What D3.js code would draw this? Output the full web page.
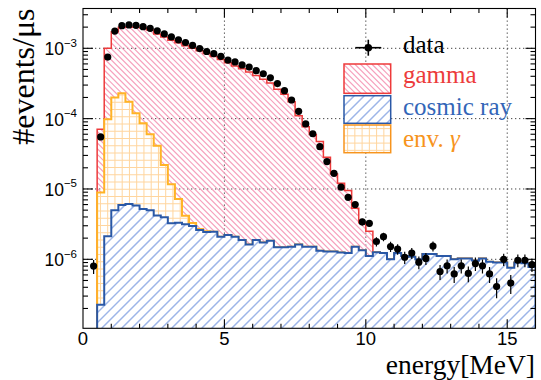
<!DOCTYPE html>
<html>
<head>
<meta charset="utf-8">
<script src="https://cdn.jsdelivr.net/npm/d3@7"></script>
<style>
  body { margin: 0; background: #fff; }
  svg { display: block; }
</style>
</head>
<body>
<svg id="chart" width="541" height="380"></svg>
<script>
// Energy spectrum: 64 bins of 0.25 MeV from 0 to 16 MeV, rates in events/us.
const binWidth = 0.25;

const gammaRate = [
  0, 0, 6.2e-5, 9.0e-4, 1.52e-3, 1.76e-3, 1.83e-3, 1.88e-3,
  1.86e-3, 1.76e-3, 1.56e-3, 1.43e-3, 1.29e-3, 1.19e-3, 1.08e-3, 1.0e-3,
  9.2e-4, 8.4e-4, 7.6e-4, 6.9e-4, 6.2e-4, 5.6e-4, 5.1e-4, 4.6e-4,
  4.1e-4, 3.6e-4, 3.2e-4, 2.6e-4, 2.2e-4, 1.73e-4, 1.08e-4, 7.5e-5,
  5.8e-5, 4.6e-5, 2.7e-5, 1.5e-5, 1.08e-5, 8.3e-6, 3.8e-6, 1.95e-6,
  1.4e-6, 0, 0, 0, 0, 0, 0, 0,
  0, 0, 0, 0, 0, 0, 0, 0,
  0, 0, 0, 0, 0, 0, 0, 0
];

const cosmicRayRate = [
  0, 0, 2.26e-7, 2.13e-6, 5.0e-6, 5.9e-6, 6.1e-6, 5.8e-6,
  5.2e-6, 5.0e-6, 4.2e-6, 3.97e-6, 3.25e-6, 3.3e-6, 3.15e-6, 2.97e-6,
  2.6e-6, 2.45e-6, 2.47e-6, 2.09e-6, 2.21e-6, 2.09e-6, 1.88e-6, 1.63e-6,
  1.88e-6, 1.74e-6, 1.83e-6, 1.48e-6, 1.48e-6, 1.51e-6, 1.63e-6, 1.51e-6,
  1.51e-6, 1.32e-6, 1.29e-6, 1.29e-6, 1.25e-6, 1.23e-6, 1.51e-6, 1.35e-6,
  1.11e-6, 1.26e-6, 1.23e-6, 1.0e-6, 1.23e-6, 1.11e-6, 1.09e-6, 1.0e-6,
  1.19e-6, 1.19e-6, 1.11e-6, 1.11e-6, 1.0e-6, 1.03e-6, 1.03e-6, 0.96e-6,
  1.03e-6, 0.92e-6, 0.90e-6, 0.90e-6, 0.76e-6, 0.90e-6, 0.88e-6, 0.78e-6
];

const envGammaRate = [
  0, 0, 8.7e-6, 9.6e-5, 1.94e-4, 2.23e-4, 1.68e-4, 1.13e-4,
  8.1e-5, 5.5e-5, 3.7e-5, 1.8e-5, 8.4e-6, 3.9e-6, 1.0e-6, 3.0e-7,
  1.0e-7, 5.0e-8, 0, 0, 0, 0, 0, 0,
  0, 0, 0, 0, 0, 0, 0, 0,
  0, 0, 0, 0, 0, 0, 0, 0,
  0, 0, 0, 0, 0, 0, 0, 0,
  0, 0, 0, 0, 0, 0, 0, 0,
  0, 0, 0, 0, 0, 0, 0, 0
];

const dataRate = [
  null, 8.0e-7, 5.5e-5, 7.5e-4, 1.76e-3, 2.1e-3, 2.15e-3, 2.12e-3,
  2.03e-3, 1.92e-3, 1.77e-3, 1.6e-3, 1.45e-3, 1.32e-3, 1.21e-3, 1.1e-3,
  9.9e-4, 9.0e-4, 8.4e-4, 7.7e-4, 6.8e-4, 6.4e-4, 5.8e-4, 5.4e-4,
  4.8e-4, 4.35e-4, 3.8e-4, 3.15e-4, 2.5e-4, 1.84e-4, 1.27e-4, 8.4e-5,
  6.1e-5, 4.0e-5, 2.45e-5, 1.67e-5, 1.06e-5, 7.6e-6, 6.0e-6, 3.4e-6,
  3.25e-6, 1.79e-6, 2.1e-6, 1.52e-6, 1.4e-6, 1.07e-6, 1.23e-6, 0.91e-6,
  1.03e-6, 1.54e-6, 0.67e-6, 0.81e-6, 0.62e-6, 0.81e-6, 0.63e-6, 0.87e-6,
  0.81e-6, 0.62e-6, 0.41e-6, 1.0e-6, 0.46e-6, 0.97e-6, 0.97e-6, 0.84e-6
];

const dataError = [
  0, 1.8e-7, 1.5e-6, 5.5e-6, 8.4e-6, 9.2e-6, 9.3e-6, 9.2e-6,
  9.0e-6, 8.8e-6, 8.4e-6, 8.0e-6, 7.6e-6, 7.3e-6, 7.0e-6, 6.6e-6,
  6.3e-6, 6.0e-6, 5.8e-6, 5.5e-6, 5.2e-6, 5.1e-6, 4.8e-6, 4.6e-6,
  4.4e-6, 4.2e-6, 3.9e-6, 3.5e-6, 3.2e-6, 2.7e-6, 2.3e-6, 1.8e-6,
  1.6e-6, 1.3e-6, 1.0e-6, 8.2e-7, 6.5e-7, 5.5e-7, 4.9e-7, 3.7e-7,
  3.6e-7, 2.7e-7, 2.9e-7, 2.5e-7, 2.4e-7, 2.1e-7, 2.2e-7, 1.9e-7,
  2.0e-7, 2.5e-7, 1.6e-7, 1.8e-7, 1.6e-7, 1.8e-7, 1.6e-7, 1.9e-7,
  1.8e-7, 1.6e-7, 1.3e-7, 2.0e-7, 1.4e-7, 2.0e-7, 2.0e-7, 1.8e-7
];

const xLabelTicks = [0, 5, 10, 15];
const yDecades = [1e-6, 1e-5, 1e-4, 1e-3];
const yDecadeExponents = ["\u22126", "\u22125", "\u22124", "\u22123"];

// ---------------------------------------------------------------
const svg = d3.select("#chart");
const frame = { left: 83, right: 535.5, top: 8.5, bottom: 328.3 };
const nBins = gammaRate.length;

const x = d3.scaleLinear().domain([0, 16]).range([frame.left, frame.right]);
const y = d3.scaleLog().domain([1.045e-7, 3.68e-3]).range([frame.bottom, frame.top]);

const colors = {
  gammaLine: "#ee3a3a", gammaHatch: "#f6a0bc",
  cosmicLine: "#2a58a6", cosmicHatch: "#9db5e8",
  envLine: "#ffb326", envHatch: "#ffd59e",
  envText: "#f7941d", cosmicText: "#3366b8", gammaText: "#ec3b3b"
};

const defs = svg.append("defs");

// Fill a clipped region with hatch lines: "back" = "\", "fwd" = "/", "grid" = square grid.
function hatch(parent, clipId, box, kind, step, color, width, ox = 0, oy = 0) {
  const g = parent.append("g").attr("clip-path", `url(#${clipId})`);
  const { x0, y0, x1, y1 } = box;
  const segs = [];
  if (kind === "fwd") {            // x + y = c
    const start = Math.floor((x0 + y0) / step) * step;
    for (let c = start; c <= x1 + y1; c += step) segs.push([c - y1, y1, c - y0, y0]);
  } else if (kind === "back") {    // x - y = c
    const start = Math.floor((x0 - y1) / step) * step;
    for (let c = start; c <= x1 - y0; c += step) segs.push([c + y0, y0, c + y1, y1]);
  } else {
    for (let gx = x0 + ((ox - x0) % step + step) % step; gx <= x1; gx += step) segs.push([gx, y0, gx, y1]);
    for (let gy = y0 + ((oy - y0) % step + step) % step; gy <= y1; gy += step) segs.push([x0, gy, x1, gy]);
  }
  g.selectAll("line").data(segs).join("line")
    .attr("x1", d => d[0]).attr("y1", d => d[1]).attr("x2", d => d[2]).attr("y2", d => d[3])
    .style("stroke", color).style("stroke-width", `${width}px`);
}

defs.append("clipPath").attr("id", "frameClip").append("rect")
  .attr("x", frame.left).attr("y", frame.top)
  .attr("width", frame.right - frame.left).attr("height", frame.bottom - frame.top);

// grid
const grid = svg.append("g").attr("stroke", "#444").attr("stroke-width", 1)
  .attr("stroke-dasharray", "1.3,2.7");
[5, 10, 15].forEach(v => grid.append("line")
  .attr("x1", x(v)).attr("x2", x(v)).attr("y1", frame.top).attr("y2", frame.bottom));
yDecades.forEach(v => grid.append("line")
  .attr("x1", frame.left).attr("x2", frame.right).attr("y1", y(v)).attr("y2", y(v)));

// stacked histograms: cosmic ray at the bottom, env. gamma, then gamma on top
const rows = d3.range(nBins).map(i => ({
  cosmic: cosmicRayRate[i], env: envGammaRate[i], gamma: gammaRate[i]
}));
const stacked = d3.stack().keys(["cosmic", "env", "gamma"])(rows);
const levels = key => stacked.find(s => s.key === key).map(d => d[1]);

const yClamp = v => (v > y.domain()[0] ? y(v) : frame.bottom);
function stepPath(lv, closed) {
  const first = lv.findIndex(v => v > 0);
  let p = `M${x(first * binWidth)},${frame.bottom}`;
  for (let i = first; i < lv.length; i++) {
    const yy = yClamp(lv[i]);
    p += `L${x(i * binWidth)},${yy}L${x((i + 1) * binWidth)},${yy}`;
  }
  p += `L${x(lv.length * binWidth)},${frame.bottom}`;
  return closed ? p + "Z" : p;
}

const frameBox = { x0: frame.left, y0: frame.top, x1: frame.right, y1: frame.bottom };
const hist = svg.append("g").attr("clip-path", "url(#frameClip)");
const layers = [
  { key: "gamma", kind: "back", step: 5.7, hw: 1.2, hatchColor: colors.gammaHatch, line: colors.gammaLine, lw: 1.5, opaque: false },
  { key: "env", kind: "grid", step: 7.25, hw: 1, hatchColor: colors.envHatch, line: colors.envLine, lw: 2, opaque: true },
  { key: "cosmic", kind: "fwd", step: 10, hw: 1.5, hatchColor: colors.cosmicHatch, line: colors.cosmicLine, lw: 2, opaque: true }
];
layers.forEach(L => {
  const lv = levels(L.key);
  const clipId = `clip-${L.key}`;
  defs.append("clipPath").attr("id", clipId).append("path").attr("d", stepPath(lv, true));
  if (L.opaque) hist.append("path").attr("d", stepPath(lv, true)).attr("fill", "#fff");
  hatch(hist, clipId, frameBox, L.kind, L.step, L.hatchColor, L.hw, 107.7, 124);
  hist.append("path").attr("d", stepPath(lv, false)).attr("fill", "none")
    .attr("stroke", L.line).attr("stroke-width", L.lw).attr("stroke-linejoin", "miter");
});

// data points with statistical errors
const pts = svg.append("g").attr("clip-path", "url(#frameClip)");
dataRate.forEach((v, i) => {
  if (v == null) return;
  const cx = x((i + 0.5) * binWidth);
  const e = dataError[i];
  pts.append("line").attr("x1", cx).attr("x2", cx)
    .attr("y1", y(v + e)).attr("y2", yClamp(v - e))
    .attr("stroke", "#000").attr("stroke-width", 1.2);
  pts.append("circle").attr("cx", cx).attr("cy", y(v)).attr("r", 3.6).attr("fill", "#000");
});

// frame and ticks (inward, on all four sides)
const axes = svg.append("g").attr("stroke", "#000").attr("stroke-width", 1.1);
axes.append("rect").attr("x", frame.left).attr("y", frame.top)
  .attr("width", frame.right - frame.left).attr("height", frame.bottom - frame.top)
  .attr("fill", "none");
d3.range(1, 16).forEach(v => {
  const len = v % 5 === 0 ? 9 : 4.5;
  axes.append("line").attr("x1", x(v)).attr("x2", x(v)).attr("y1", frame.bottom).attr("y2", frame.bottom - len);
  axes.append("line").attr("x1", x(v)).attr("x2", x(v)).attr("y1", frame.top).attr("y2", frame.top + len);
});
const [yLo, yHi] = y.domain();
for (let e = -7; e <= -3; e++) {
  for (let k = 1; k <= 9; k++) {
    const v = k * Math.pow(10, e);
    if (v < yLo || v > yHi) continue;
    const len = k === 1 ? 10 : 5;
    const yy = y(v);
    axes.append("line").attr("x1", frame.left).attr("x2", frame.left + len).attr("y1", yy).attr("y2", yy);
    axes.append("line").attr("x1", frame.right).attr("x2", frame.right - len).attr("y1", yy).attr("y2", yy);
  }
}

// tick labels
const sans = "'Liberation Sans', Arial, Helvetica, sans-serif";
const serif = "'Liberation Serif', 'Times New Roman', serif";
xLabelTicks.forEach(v => svg.append("text")
  .attr("x", x(v)).attr("y", 344.5).attr("text-anchor", "middle")
  .attr("font-family", sans).attr("font-size", 18.5).text(v));
yDecades.forEach((v, i) => {
  const t = svg.append("text").attr("x", 77).attr("y", y(v) + 7)
    .attr("text-anchor", "end").attr("font-family", sans).attr("font-size", 17.5);
  t.append("tspan").text("10");
  t.append("tspan").attr("dy", -8.5).attr("font-size", 11.5).text(yDecadeExponents[i]);
});

// axis titles
svg.append("text").attr("x", 535).attr("y", 373.7).attr("text-anchor", "end")
  .attr("font-family", serif).attr("font-size", 27.5).text("energy[MeV]");
svg.append("text").attr("transform", `translate(34,${frame.top}) rotate(-90)`)
  .attr("text-anchor", "end").attr("font-family", serif).attr("font-size", 32)
  .text("#events/\u03bcs");

// legend
const lg = svg.append("g");
const mx = 368.3, my = 47.7;
lg.append("line").attr("x1", mx - 13).attr("x2", mx + 13).attr("y1", my).attr("y2", my)
  .attr("stroke", "#000").attr("stroke-width", 1.6);
lg.append("line").attr("x1", mx).attr("x2", mx).attr("y1", my - 8).attr("y2", my + 8)
  .attr("stroke", "#000").attr("stroke-width", 1.6);
lg.append("circle").attr("cx", mx).attr("cy", my).attr("r", 3.8).attr("fill", "#000");

const legendEntries = [
  { label: "data", color: "#000", y: 53.3 },
  { label: "gamma", color: colors.gammaText, y: 83.3, box: [64, 93.3], kind: "back", step: 5.7, hw: 1.2, hatchColor: colors.gammaHatch, line: colors.gammaLine },
  { label: "cosmic ray", color: colors.cosmicText, y: 115, box: [95.7, 123.3], kind: "fwd", step: 10, hw: 1.5, hatchColor: colors.cosmicHatch, line: colors.cosmicLine },
  { label: "env. ", greek: "\u03b3", color: colors.envText, y: 146.7, box: [125, 152.7], kind: "grid", step: 7.25, hw: 1, hatchColor: colors.envHatch, line: colors.envText }
];
legendEntries.forEach((d, i) => {
  if (d.box) {
    const bx = 344, bw = 46.7, by = d.box[0], bh = d.box[1] - d.box[0];
    const clipId = `legclip-${i}`;
    defs.append("clipPath").attr("id", clipId).append("rect")
      .attr("x", bx).attr("y", by).attr("width", bw).attr("height", bh);
    lg.append("rect").attr("x", bx).attr("y", by).attr("width", bw).attr("height", bh).attr("fill", "#fff");
    hatch(lg, clipId, { x0: bx, y0: by, x1: bx + bw, y1: by + bh }, d.kind, d.step, d.hatchColor, d.hw, bx + 3.6, by + 3.6);
    lg.append("rect").attr("x", bx).attr("y", by).attr("width", bw).attr("height", bh)
      .attr("fill", "none").attr("stroke", d.line).attr("stroke-width", 1.5);
  }
  const t = lg.append("text").attr("x", 403).attr("y", d.y)
    .attr("font-family", serif).attr("font-size", 25).attr("fill", d.color);
  t.append("tspan").text(d.label);
  if (d.greek) t.append("tspan").attr("font-style", "italic").text(d.greek);
});
</script>
</body>
</html>
